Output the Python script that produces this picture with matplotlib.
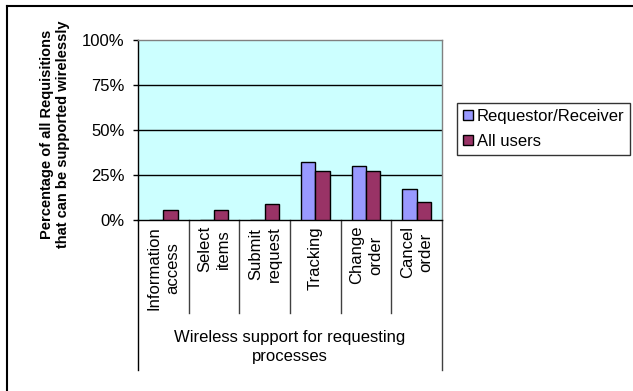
import matplotlib
matplotlib.use("Agg")
import matplotlib.pyplot as plt
import numpy as np
from matplotlib.lines import Line2D

plt.rcParams['font.family'] = ['Liberation Sans', 'DejaVu Sans']

categories = ["Information\naccess", "Select\nitems", "Submit\nrequest", "Tracking", "Change\norder", "Cancel\norder"]
requestor = [0, 0, 0, 32, 30, 17]
all_users = [5.5, 5.5, 9, 27, 27, 10]
series_names = ["Requestor/Receiver", "All users"]
yticks = [0, 25, 50, 75, 100]
ytick_labels = ["0%", "25%", "50%", "75%", "100%"]
group_label = "Wireless support for requesting\nprocesses"
ylabel = "Percentage of all Requisitions\nthat can be supported wirelessly"

W, H = 633, 391
fig = plt.figure(figsize=(W / 100, H / 100), dpi=100)

def px(x0, y0, x1, y1):
    return [x0 / W, 1 - y1 / H, (x1 - x0) / W, (y1 - y0) / H]

ax = fig.add_axes(px(138, 40, 442, 220))
ax.set_facecolor("#CCFFFF")

x = np.arange(len(categories))
w = 1 / 3.5
ax.bar(x - w / 2, requestor, width=w, color="#9999FF", edgecolor="black", linewidth=1, zorder=3, label=series_names[0])
ax.bar(x + w / 2, all_users, width=w, color="#993366", edgecolor="black", linewidth=1, zorder=3, label=series_names[1])

ax.set_xlim(-0.5, len(categories) - 0.5)
ax.set_ylim(0, 100)
ax.set_yticks(yticks)
ax.set_yticklabels(ytick_labels, fontsize=12)
ax.tick_params(axis="y", direction="out", length=3.6, width=1, pad=6)
ax.set_xticks([])
for yv in yticks[1:-1]:
    ax.axhline(yv, color="black", linewidth=1, zorder=1)

for s in ["top", "right"]:
    ax.spines[s].set_color("#808080")
    ax.spines[s].set_linewidth(1)
for s in ["left", "bottom"]:
    ax.spines[s].set_color("black")
    ax.spines[s].set_linewidth(1)

trans = ax.get_xaxis_transform()
for k in range(len(categories) + 1):
    xb = k - 0.5
    y_end = -150 / 180 if k in (0, len(categories)) else -93 / 180
    ax.add_line(Line2D([xb, xb], [0, y_end], transform=trans, color="black" if k == 0 else "#404040",
                       linewidth=1, clip_on=False))

for i, c in enumerate(categories):
    ax.text(i, -6 / 180, c, transform=trans, rotation=90, ha="center", va="top",
            multialignment="center", fontsize=12, linespacing=1.3)

ax.text(2.5, -110 / 180, group_label, transform=trans, ha="center", va="top",
        multialignment="center", fontsize=12, linespacing=1.3)

fig.text(55 / W, 1 - 134 / H, ylabel, rotation=90, ha="center", va="center",
         multialignment="center", fontsize=10.5, fontweight="bold", linespacing=1.2)

leg = ax.legend(loc="upper left", bbox_to_anchor=(457 / W, 1 - 103 / H), bbox_transform=fig.transFigure,
                frameon=True, fancybox=False, edgecolor="black", fontsize=12,
                handlelength=0.6, handleheight=0.6, handletextpad=0.25, borderpad=0.35,
                labelspacing=0.6, borderaxespad=0)
leg.get_frame().set_linewidth(1)

fig.add_artist(Line2D([7.5 / W, 7.5 / W], [0, 1 - 5.5 / H], transform=fig.transFigure, color="black", linewidth=1.5))
fig.add_artist(Line2D([7.5 / W, 1], [1 - 5.5 / H, 1 - 5.5 / H], transform=fig.transFigure, color="black", linewidth=1.5))

fig.savefig("out.png", dpi=100)
